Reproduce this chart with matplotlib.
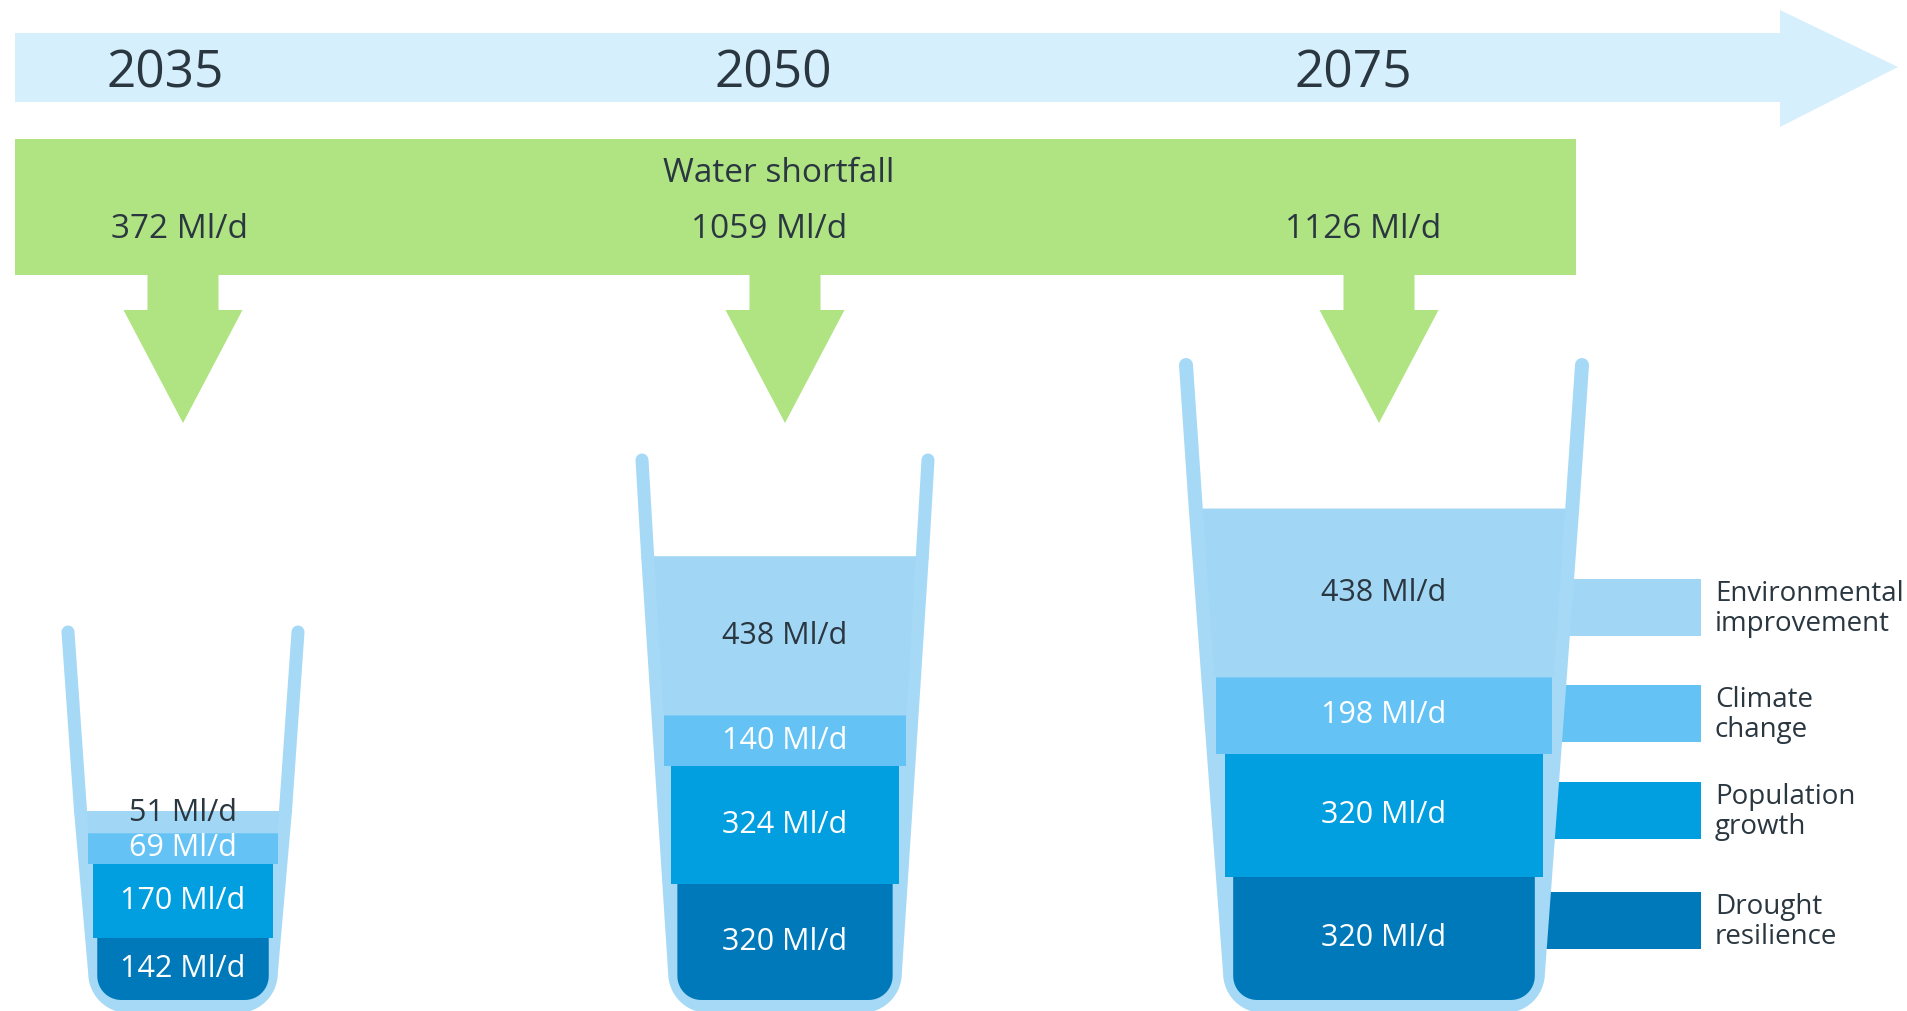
import numpy as np
import matplotlib
import matplotlib.pyplot as plt
from matplotlib.patches import Polygon, Rectangle

matplotlib.use("Agg")
plt.rcParams["font.family"] = ["Open Sans", "DejaVu Sans"]

# data
years = ["2035", "2050", "2075"]
shortfall = [372, 1059, 1126]
legend_labels = ["Environmental\nimprovement", "Climate\nchange",
                 "Population\ngrowth", "Drought\nresilience"]
# layers per glass, bottom to top
drought = [142, 320, 320]
population = [170, 324, 320]
climate = [69, 140, 198]
environment = [51, 438, 438]

# colours
c_band = "#d6effc"
c_green = "#b0e382"
c_glass = "#a6d9f6"
c_text = "#2a3740"
layer_colors = ["#0079ba", "#019ee0", "#64c3f4", "#a2d6f5"]
label_colors = ["white", "white", "white", c_text]

# layout (pixel coords, y downwards)
year_x = [165, 773, 1353]
short_x = [180, 769, 1363]
arrow_x = [183, 785, 1379]
glass_cx = [183, 785, 1384]
glass_top = [632, 460, 365]
glass_hw = [115, 143, 198]
glass_slope = [0.07, 0.059, 0.068]
glass_scale = [0.4375, 0.363, 0.385]  # px per Ml/d
wall = [13, 13, 14]
liq_bottom = 1000
legend_y = [607, 713, 810, 920]

fig = plt.figure(figsize=(19.08, 10.11), dpi=100)
ax = fig.add_axes([0, 0, 1, 1])
ax.set_xlim(0, 1908)
ax.set_ylim(1011, 0)
ax.axis("off")

# timeline arrow
ax.add_patch(Polygon([(15, 33), (1780, 33), (1780, 10), (1898, 67),
                      (1780, 127), (1780, 102), (15, 102)],
                     closed=True, color=c_band, lw=0))
for x, yr in zip(year_x, years):
    ax.text(x, 74, yr, fontsize=37, color=c_text, ha="center", va="center")

# water shortfall band + arrows
ax.add_patch(Rectangle((15, 139), 1561, 136, color=c_green, lw=0))
ax.text(779, 173, "Water shortfall", fontsize=24, color=c_text,
        ha="center", va="center")
for x, xs, v in zip(arrow_x, short_x, shortfall):
    ax.add_patch(Polygon([(x - 35.5, 270), (x + 35.5, 270), (x + 35.5, 310),
                          (x + 59.5, 310), (x, 423), (x - 59.5, 310),
                          (x - 35.5, 310)], closed=True, color=c_green, lw=0))
    ax.text(xs, 229, f"{v} Ml/d", fontsize=24, color=c_text,
            ha="center", va="center")


def rounded_poly(xl0, xr0, xl1, xr1, y0, y1, r, n=14):
    pts = [(xl0, y0), (xr0, y0)]
    for a in np.linspace(0, np.pi / 2, n):
        pts.append((xr1 - r + r * np.cos(a), y1 - r + r * np.sin(a)))
    for a in np.linspace(np.pi / 2, np.pi, n):
        pts.append((xl1 + r + r * np.cos(a), y1 - r + r * np.sin(a)))
    return pts


layers = np.array([drought, population, climate, environment])

for g in range(3):
    cx, top, hw0, k, sc, t = (glass_cx[g], glass_top[g], glass_hw[g],
                              glass_slope[g], glass_scale[g], wall[g])
    hw = lambda y: hw0 - k * (y - top)
    heights = layers[:, g] * sc
    bounds = liq_bottom - np.concatenate([[0], np.cumsum(heights)])
    y_liq = bounds[-1]

    # walls above the liquid
    for s in (-1, 1):
        ax.plot([cx + s * hw0, cx + s * hw(y_liq)], [top, y_liq],
                color=c_glass, lw=t * 0.72, solid_capstyle="round", zorder=2)
    # glass body
    yb = liq_bottom + 13
    ax.add_patch(Polygon(rounded_poly(cx - hw(y_liq) - t / 2, cx + hw(y_liq) + t / 2,
                                      cx - hw(yb) - t / 2, cx + hw(yb) + t / 2,
                                      y_liq, yb, 40),
                         closed=True, color=c_glass, lw=0, zorder=2))
    # liquid layers
    for i in range(4):
        y1, y0 = bounds[i], bounds[i + 1]
        if i == 3:
            pts = [(cx - hw(y0) + t / 2, y0), (cx + hw(y0) - t / 2, y0),
                   (cx + hw(y1) - t / 2, y1), (cx - hw(y1) + t / 2, y1)]
        else:
            h = hw(y1) - t / 2 + 3
            if i == 0:
                pts = rounded_poly(cx - h, cx + h, cx - h, cx + h, y0, y1, 24)
            else:
                pts = [(cx - h, y0), (cx + h, y0), (cx + h, y1), (cx - h, y1)]
        ax.add_patch(Polygon(pts, closed=True, color=layer_colors[i], lw=0, zorder=3))
        ym = (y0 + y1) / 2
        if g == 0 and i == 3:
            ym -= 9  # small top layer: label sits on the rim
        ax.text(cx, ym, f"{layers[i, g]} Ml/d", fontsize=22,
                color=label_colors[i], ha="center", va="center", zorder=5)

# legend bars attached to the last glass
cx, top, hw0, k, t = glass_cx[2], glass_top[2], glass_hw[2], glass_slope[2], wall[2]
for ly, lab, col in zip(legend_y, legend_labels, layer_colors[::-1]):
    x0 = cx + hw0 - k * (ly - top) - 4
    ax.add_patch(Rectangle((x0, ly - 28.5), 1701 - x0, 57, color=col, lw=0, zorder=1))
    ax.text(1715, ly + 2, lab, fontsize=20, color=c_text, ha="left", va="center",
            linespacing=1.05)

fig.savefig("out.png", dpi=100)
